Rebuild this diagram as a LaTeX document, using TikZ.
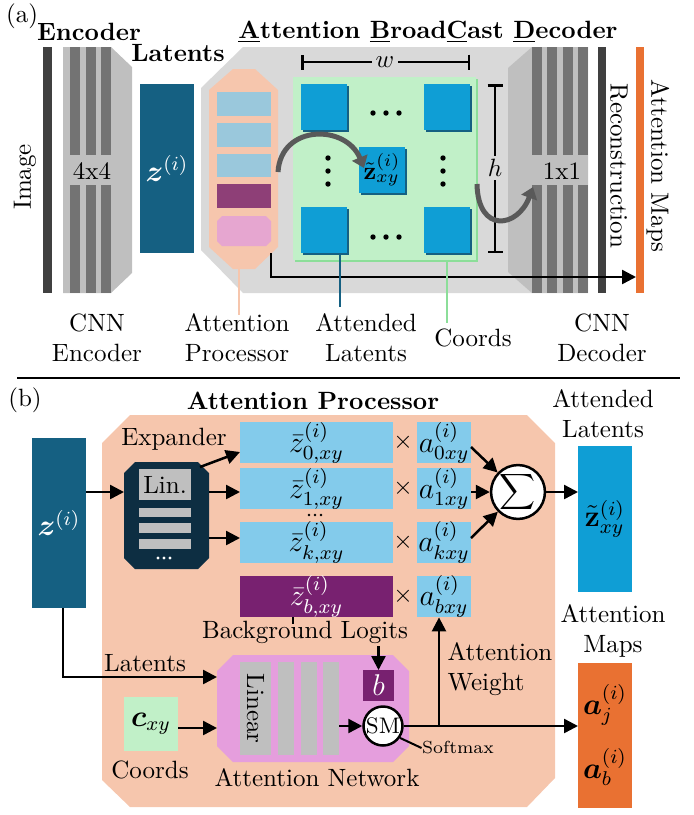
\documentclass[tikz,border=0pt]{standalone}
\usepackage{bm}
\usetikzlibrary{arrows.meta,calc}
\definecolor{peach}{HTML}{F6C6AD}
\definecolor{latent}{HTML}{156082}
\definecolor{attblue}{HTML}{0F9ED5}
\definecolor{orangeA}{HTML}{E97132}
\definecolor{lightblue}{HTML}{83CBEB}
\definecolor{coordgreen}{HTML}{C1F0C8}
\definecolor{greenedge}{HTML}{8CDE99}
\definecolor{purpleB}{HTML}{782170}
\definecolor{pinkB}{HTML}{E59EDD}
\definecolor{expdark}{HTML}{0D2E42}
\definecolor{aplb}{HTML}{9AC8DC}
\definecolor{appurple}{HTML}{8E3F77}
\definecolor{appink}{HTML}{E6A6D0}
\definecolor{abcbg}{HTML}{D9D9D9}
\definecolor{cnnlight}{HTML}{BFBFBF}
\definecolor{cnndark}{HTML}{737373}
\definecolor{barc}{HTML}{404040}
\definecolor{curvec}{HTML}{595959}
\newcommand\bbox[6]{\node[boxbase,#6, minimum width={(#4-#2)*0.4pt}, minimum height={(#5-#3)*0.4pt}] (#1) at ({(#2+#4)/2},{(#3+#5)/2})}
\begin{document}
\begin{tikzpicture}[x=0.4pt,y=-0.4pt,
  boxbase/.style={rectangle,inner sep=0pt,outer sep=0pt,draw=none},
  arr/.style={draw=black,line width=1pt,-{Triangle[length=5.6pt,width=5.6pt]}},
  curvearr/.style={draw=curvec,line width=2pt,-{Triangle[length=4.5pt,width=6.5pt]}},
  lbl/.style={align=center,inner sep=0pt},
  ttl/.style={font=\bfseries,inner sep=0pt},
  dotc/.style={fill=black}]
\useasboundingbox (0,0) rectangle (694,815);
% ================= (a) =================
\node[lbl] (la) at (22,16) {(a)};
\node[ttl] (encT) at (89,32) {Encoder};
\node[ttl] (latT) at (178,53) {Latents};
\node[ttl] (abcT) at (428,32) {\underline{A}ttention \underline{B}road\underline{C}ast \underline{D}ecoder};
% image bar
\bbox{imgbar}{43}{47}{52}{293}{fill=barc} {};
\node[lbl,rotate=90] (imgl) at (25,177) {Image};
% encoder
\fill[cnnlight] (63,47) -- (111,47) -- (132,67) -- (132,273) -- (111,293) -- (63,293) -- cycle;
\foreach \xx in {70,86,101}{
  \fill[cnndark] (\xx,47) rectangle (\xx+10,155);
  \fill[cnndark] (\xx,185) rectangle (\xx+10,293);}
\node[lbl] (enc44) at (92,171) {4x4};
% latent
\bbox{zA}{140}{84}{194}{253}{fill=latent,text=white,font=\large} {$\bm{z}^{(i)}$};
% gray region
\fill[abcbg] (243,47) -- (532,47) -- (532,293) -- (243,293) -- (201,250) -- (201,88) -- cycle;
% decoder
\fill[cnnlight] (508,68) -- (532,47) -- (588,47) -- (588,293) -- (532,293) -- (508,272) -- cycle;
\foreach \xx in {532,547,563,578}{
  \fill[cnndark] (\xx,47) rectangle (\xx+10,155);
  \fill[cnndark] (\xx,185) rectangle (\xx+10,293);}
\node[lbl] (dec11) at (562,171) {1x1};
\bbox{recbar}{598}{47}{606}{293}{fill=barc} {};
\node[lbl,rotate=-90] (recl) at (619,166) {Reconstruction};
\bbox{amA}{636}{47}{644}{293}{fill=orangeA} {};
\node[lbl,rotate=-90] (amAl) at (658,166) {Attention Maps};
% attention processor (a)
\fill[peach] (233,69) -- (255,69) -- (278,90) -- (278,247) -- (255,269) -- (233,269) -- (209,247) -- (209,90) -- cycle;
\bbox{apA}{209}{69}{278}{269}{} {};
\bbox{apb1}{217}{92}{271}{116}{fill=aplb} {};
\bbox{apb2}{217}{123}{271}{147}{fill=aplb} {};
\bbox{apb3}{217}{154}{271}{177}{fill=aplb} {};
\bbox{apb4}{217}{184}{271}{208}{fill=appurple} {};
\fill[appink] (222,216) -- (266,216) -- (271,221) -- (271,241) -- (266,246) -- (222,246) -- (217,241) -- (217,221) -- cycle;
% coords grid
\fill[greenedge] (295,79) rectangle (478,262);
\bbox{grid}{293}{77}{476}{260}{fill=coordgreen} {};
\foreach \nm/\xa/\ya in {tl/301/84,tr/424/84,bl/301/207,br/424/207}{
  \fill[latent] (\xa+2,\ya+2) rectangle (\xa+48,\ya+48);
  \bbox{sq\nm}{\xa}{\ya}{\xa+46}{\ya+46}{fill=attblue} {};}
\fill[latent] (361,149) rectangle (407,195);
\bbox{sqc}{359}{147}{405}{193}{fill=attblue} {$\tilde{\mathbf{z}}^{(i)}_{xy}$};
\foreach \p in {373,386,399}{\fill[dotc] (\p,113) circle (2.7); \fill[dotc] (\p,237) circle (2.7);}
\foreach \p in {158,171,184}{\fill[dotc] (328,\p) circle (2.7); \fill[dotc] (443,\p) circle (2.7);}
% w and h brackets
\coordinate (wl) at (301,62); \coordinate (wr) at (470,62);
\draw[line width=1pt,{Bar[width=6pt]}-{Bar[width=6pt]}] (wl) -- (wr);
\node[fill=abcbg,inner sep=1.5pt] (wlab) at (385,62) {$w$};
\coordinate (ht) at (495,84); \coordinate (hb) at (495,253);
\draw[line width=1pt,{Bar[width=6pt]}-{Bar[width=6pt]}] (ht) -- (hb);
\node[fill=abcbg,inner sep=1.5pt] (hlab) at (495,168) {$h$};
% curved arrows
\coordinate (c1s) at (278,172); \coordinate (c1e) at (364,168);
\draw[curvearr] (c1s) .. controls (281,124) and (346,124) .. (c1e);
\coordinate (c2s) at (477,184); \coordinate (c2e) at (533,187);
\draw[curvearr] (c2s) .. controls (478,234) and (518,228) .. (c2e);
% bottom arrow
\coordinate (bas) at (271,253);
\draw[arr] (bas) -- (271,277) -- (amA.west |- 0,277);
% labels (a)
\node[lbl] (cnnE) at (97,338) {CNN\\Encoder};
\node[lbl] (apAl) at (237,338) {Attention\\Processor};
\node[lbl] (attAl) at (366,338) {Attended\\Latents};
\node[lbl] (crdAl) at (473,338) {Coords};
\node[lbl] (cnnD) at (602,338) {CNN\\Decoder};
\draw[peach,line width=1pt] (apA.south -| 239,0) -- (239,315);
\draw[latent,line width=1pt] (sqbl.south -| 340,0) -- (340,307);
\draw[greenedge,line width=1pt] (grid.south -| 447,0) -- (447,323);
% separator
\coordinate (sepl) at (17,378); \coordinate (sepr) at (680,378);
\draw[line width=1pt] (sepl) -- (sepr);
% ================= (b) =================
\node[lbl] (lb) at (25,400) {(b)};
\node[ttl] (apT) at (313,401) {Attention Processor};
\fill[peach] (130,415) -- (527,415) -- (555,443) -- (555,778) -- (527,807) -- (130,807) -- (102,780) -- (102,443) -- cycle;
\bbox{zB}{32}{438}{86}{608}{fill=latent,text=white,font=\large} {$\bm{z}^{(i)}$};
% expander
\fill[expdark] (135,462) -- (198,462) -- (209,473) -- (209,558) -- (198,569) -- (135,569) -- (124,558) -- (124,473) -- cycle;
\bbox{expB}{124}{462}{209}{569}{} {};
\bbox{linB}{139}{469}{191}{500}{fill=cnnlight} {Lin.};
\bbox{ls1}{139}{508}{191}{517}{fill=cnnlight} {};
\bbox{ls2}{139}{523}{191}{533}{fill=cnnlight} {};
\bbox{ls3}{139}{539}{191}{549}{fill=cnnlight} {};
\foreach \p in {158,164,170}{\fill[white] (\p,558) circle (1.7);}
\node[lbl] (expl) at (174,439) {Expander};
% z-bar boxes
\bbox{zb0}{240}{423}{393}{462}{fill=lightblue,font=\large} {$\bar{z}^{(i)}_{0,xy}$};
\bbox{zb1}{240}{469}{393}{508}{fill=lightblue,font=\large} {$\bar{z}^{(i)}_{1,xy}$};
\bbox{zbk}{240}{523}{393}{562}{fill=lightblue,font=\large} {$\bar{z}^{(i)}_{k,xy}$};
\bbox{zbb}{240}{577}{393}{616}{fill=purpleB,text=white,font=\large} {$\bar{z}^{(i)}_{b,xy}$};
\foreach \p in {309,315,321}{\fill[dotc] (\p,515) circle (1.3);}
\foreach \nm/\yy in {0/442.5,1/488.5,k/542.5,b/596.5}{\node[lbl] (x\nm) at (403,\yy) {$\times$};}
\bbox{a0}{417}{423}{471}{462}{fill=lightblue,font=\large} {$a^{(i)}_{0xy}$};
\bbox{a1}{417}{469}{471}{508}{fill=lightblue,font=\large} {$a^{(i)}_{1xy}$};
\bbox{ak}{417}{523}{471}{562}{fill=lightblue,font=\large} {$a^{(i)}_{kxy}$};
\bbox{ab}{417}{577}{471}{616}{fill=lightblue,font=\large} {$a^{(i)}_{bxy}$};
\node[circle,draw,line width=1pt,fill=white,minimum size=48*0.4pt,inner sep=0pt] (sum) at (518,492) {$\displaystyle\sum$};
% expander arrows
\coordinate (e0s) at (200,467); \coordinate (e1s) at (209,492); \coordinate (eks) at (209,538);
\draw[arr] (e0s) -- (zb0.west |- 0,452);
\draw[arr] (e1s) -- (zb1.west |- e1s);
\draw[arr] (eks) -- (zbk.west |- eks);
\draw[arr] (zB.east |- 0,492) -- (expB.west |- 0,492);
\draw[arr] (a0.east |- 0,447) -- (sum);
\draw[arr] (a1.east |- sum) -- (sum);
\draw[arr] (ak.east |- 0,538) -- (sum);
% attended latents
\bbox{attB}{578}{446}{632}{592}{fill=attblue,font=\large} {$\tilde{\mathbf{z}}^{(i)}_{xy}$};
\draw[arr] (sum.east) -- (sum.east -| attB.west);
\node[lbl] (attBl) at (603,414) {Attended\\Latents};
\node[lbl] (amBl) at (613,631) {Attention\\Maps};
\bbox{amB}{578}{663}{632}{808}{fill=orangeA} {};
\node[lbl,font=\large] (amBj) at (605,705) {$\bm{a}^{(i)}_{j}$};
\node[lbl,font=\large] (amBb) at (605,767) {$\bm{a}^{(i)}_{b}$};
% background logits
\node[lbl] (bgl) at (305,632) {Background Logits};
\draw[line width=1pt] (zbb.south -| 293,0) -- (293,624);
% attention network
\fill[pinkB] (233,655) -- (393,655) -- (409,671) -- (409,746) -- (393,762) -- (233,762) -- (217,746) -- (217,671) -- cycle;
\bbox{anB}{217}{655}{409}{762}{} {};
\bbox{lin1}{240}{662}{271}{755}{fill=cnnlight} {};
\node[lbl,rotate=-90] (linl) at (lin1) {Linear};
\bbox{lin2}{278}{662}{294}{755}{fill=cnnlight} {};
\bbox{lin3}{301}{662}{317}{755}{fill=cnnlight} {};
\bbox{lin4}{323}{662}{339}{755}{fill=cnnlight} {};
\bbox{bB}{363}{670}{394}{701}{fill=purpleB,text=white,font=\large} {$b$};
\draw[arr] (bB.north |- 0,646) -- (bB.north);
\node[circle,draw,line width=1pt,fill=white,minimum size=39*0.4pt,inner sep=0pt,font=\small] (sm) at (383,726) {SM};
\draw[arr] (lin4.east |- sm) -- (sm.west);
\node[lbl,font=\scriptsize] (smx) at (458,748) {Softmax};
\draw[line width=0.8pt] (sm.-35) -- (smx.west);
\draw[arr] (sm.east) -- (sm.east -| amB.west);
\coordinate (brn) at (439,726);
\draw[arr] (brn) -- (brn |- ab.south);
\node[lbl,anchor=west,align=left] (awl) at (447,669) {Attention\\Weight};
\node[lbl] (anl) at (317,778) {Attention Network};
% latents path
\draw[arr] (zB.south -| 63,0) -- (63,677) -- (anB.west |- 0,677);
\node[lbl] (latl) at (145,663) {Latents};
\bbox{cB}{124}{697}{178}{751}{fill=coordgreen,font=\large} {$\bm{c}_{xy}$};
\draw[arr] (cB.east |- 0,728) -- (anB.west |- 0,728);
\node[lbl] (crdl) at (150,770) {Coords};
\end{tikzpicture}
\end{document}
